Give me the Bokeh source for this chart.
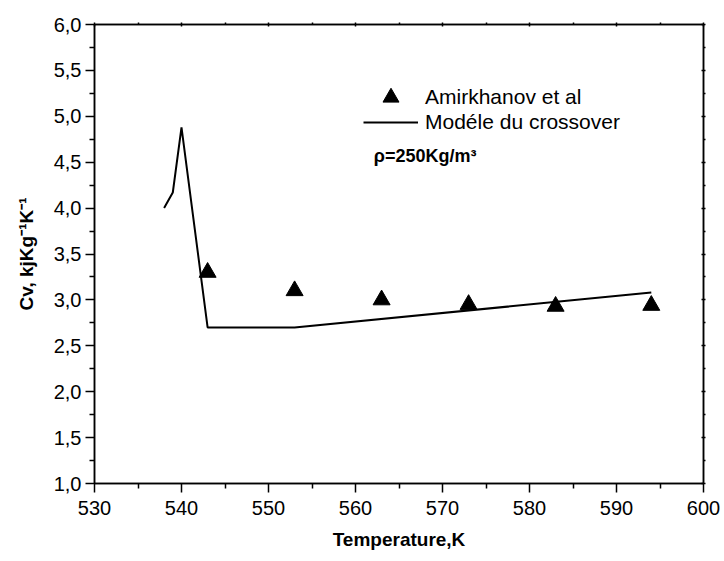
from bokeh.plotting import figure
from bokeh.models import (LinearAxis, FixedTicker, CustomJSTickFormatter, Legend,
                          LegendItem, Label, Range1d, ColumnDataSource)
from bokeh.embed import file_html
from bokeh.resources import INLINE

# ---- data ----
exp_T = [543, 553, 563, 573, 583, 594]
exp_Cv = [3.30, 3.10, 3.00, 2.95, 2.93, 2.94]

model_T = [538, 539, 540, 543, 553, 594]
model_Cv = [4.00, 4.17, 4.88, 2.70, 2.70, 3.08]

x_major = [530, 540, 550, 560, 570, 580, 590, 600]
x_minor = [535, 545, 555, 565, 575, 585, 595]
y_major = [1.0, 1.5, 2.0, 2.5, 3.0, 3.5, 4.0, 4.5, 5.0, 5.5, 6.0]
y_minor = [1.25, 1.75, 2.25, 2.75, 3.25, 3.75, 4.25, 4.75, 5.25, 5.75]

x_title = "Temperature,K"
y_title = "Cv, kjKg\u207b\u00b9K\u207b\u00b9"
exp_label = "Amirkhanov et al"
model_label = "Modéle du crossover"
note = "\u03c1=250Kg/m\u00b3"

FONT = "Liberation Sans"

p = figure(width=724, height=561, output_backend="svg", toolbar_location=None,
           x_range=Range1d(530, 600), y_range=Range1d(1, 6),
           x_axis_location=None, y_axis_location=None,
           min_border_left=94, min_border_right=21, min_border_top=24, min_border_bottom=78)
p.grid.visible = False
p.outline_line_color = "black"
p.outline_line_width = 1.5
p.background_fill_color = "white"
p.border_fill_color = "white"

xt = FixedTicker(ticks=x_major, minor_ticks=x_minor)
yt = FixedTicker(ticks=y_major, minor_ticks=y_minor)
xfmt = CustomJSTickFormatter(code="return tick.toFixed(0);")
yfmt = CustomJSTickFormatter(code="return tick.toFixed(1).replace('.', ',');")

def style(ax, labels=True):
    ax.axis_line_color = "black"
    ax.axis_line_width = 1.5
    ax.major_tick_line_width = 1.5
    ax.minor_tick_line_width = 1.5
    ax.major_tick_line_color = "black"
    ax.minor_tick_line_color = "black"
    if labels:
        ax.major_tick_out = 9
        ax.major_tick_in = 0
        ax.minor_tick_out = 5
        ax.minor_tick_in = 0
        ax.major_label_text_font = FONT
        ax.major_label_text_font_size = "20px"
        ax.major_label_text_color = "black"
        ax.axis_label_text_font = FONT
        ax.axis_label_text_font_size = "19px"
        ax.axis_label_text_font_style = "bold"
        ax.axis_label_text_color = "black"
    else:
        ax.major_tick_out = 2
        ax.major_tick_in = 2
        ax.minor_tick_out = 2
        ax.minor_tick_in = 0
        ax.major_label_text_font_size = "0px"
        ax.major_label_standoff = 0

bottom = LinearAxis(ticker=xt, formatter=xfmt, axis_label=x_title)
style(bottom)
bottom.major_label_standoff = 8
bottom.axis_label_standoff = 11
p.add_layout(bottom, "below")

left = LinearAxis(ticker=yt, formatter=yfmt, axis_label=y_title)
style(left)
left.major_label_standoff = 4
left.axis_label_standoff = 14
p.add_layout(left, "left")

top = LinearAxis(ticker=xt, formatter=CustomJSTickFormatter(code="return '';"))
style(top, labels=False)
p.add_layout(top, "above")

right = LinearAxis(ticker=yt, formatter=CustomJSTickFormatter(code="return '';"))
style(right, labels=False)
p.add_layout(right, "right")

model_src = ColumnDataSource(dict(T=model_T, Cv=model_Cv))
exp_src = ColumnDataSource(dict(T=exp_T, Cv=exp_Cv))

r_line = p.line("T", "Cv", source=model_src, line_color="black", line_width=2)
r_exp = p.scatter("T", "Cv", source=exp_src, marker="triangle", size=17,
                  fill_color="black", line_color="black")

common = dict(orientation="vertical", glyph_width=55, label_standoff=7, spacing=0,
              padding=0, margin=0, label_text_font=FONT, label_text_font_size="21px",
              label_text_color="black", border_line_alpha=0, background_fill_alpha=0)

legend1 = Legend(items=[LegendItem(label=exp_label, renderers=[r_exp])],
                 location=(269, 366), glyph_height=40, **common)
legend2 = Legend(items=[LegendItem(label=model_label, renderers=[r_line])],
                 location=(269, 349), glyph_height=20, **common)
p.add_layout(legend1, "center")
p.add_layout(legend2, "center")

p.add_layout(Label(x=562.1, y=4.57, text=note, text_font=FONT, text_font_size="18px",
                   text_font_style="bold", text_baseline="middle", text_color="black"))

open("out.html", "w").write(file_html(p, INLINE))
